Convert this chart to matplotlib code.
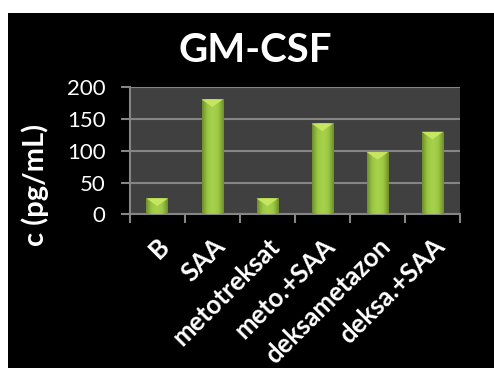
import matplotlib
matplotlib.use("Agg")
import matplotlib.pyplot as plt
import matplotlib.transforms as mtransforms
import numpy as np
from matplotlib.patches import Rectangle, Polygon
from matplotlib.colors import LinearSegmentedColormap

categories = ["B", "SAA", "metotreksat", "meto.+SAA", "deksametazon", "deksa.+SAA"]
values = [25, 181, 25, 143, 98, 130]
yticks = [0, 50, 100, 150, 200]

plt.rcParams['font.family'] = ['Lato', 'DejaVu Sans']

fig = plt.figure(figsize=(4.94, 3.78), dpi=100)
fig.patch.set_facecolor('white')
fig.add_artist(Rectangle((8/494, 10/378), 1 - 8/494, 1 - 23/378,
                         transform=fig.transFigure, facecolor='black',
                         edgecolor='none', zorder=-10))

ax = fig.add_axes([129.7/494, 1 - 214.3/378, 330.3/494, 127/378])
ax.set_facecolor('#404040')
x = np.arange(len(categories))
width = 0.39
bars = ax.bar(x, values, width=width, color='#93bd3c', zorder=3)

cmap = LinearSegmentedColormap.from_list('g', ['#6f8f2a', '#9cc843', '#a8d24c', '#9cc843', '#6f8f2a'])
grad = np.linspace(0, 1, 64).reshape(1, -1)
for b in bars:
    x0, w, h = b.get_x(), b.get_width(), b.get_height()
    im = ax.imshow(grad, extent=[x0, x0 + w, 0, h], aspect='auto', cmap=cmap,
                   zorder=4, origin='lower')
    im.set_clip_path(b)
    d = min(12, h * 0.5)
    tri = Polygon([[x0, h], [x0 + w, h], [x0 + w / 2, h - d]], closed=True,
                  facecolor='#c6e561', edgecolor='none', zorder=5)
    ax.add_patch(tri)

ax.set_xlim(-0.5, len(categories) - 0.5)
ax.set_ylim(0, 200)
ax.set_yticks(yticks)
ax.set_yticklabels([str(t) for t in yticks], color='white', fontsize=16)
ax.set_xticks(np.arange(len(categories) + 1) - 0.5, minor=False)
ax.set_xticklabels([])
ax.set_xticks(x, minor=True)
ax.set_xticklabels(categories, minor=True, rotation=45, ha='right', rotation_mode='anchor',
                   color='white', fontsize=18.5, fontweight='bold')
offset = mtransforms.ScaledTranslation(4/100, 0, fig.dpi_scale_trans)
for lbl in ax.get_xticklabels(minor=True):
    lbl.set_transform(lbl.get_transform() + offset)
ax.tick_params(axis='x', which='minor', length=0, pad=14)
ax.tick_params(axis='x', which='major', length=6.5, width=1.5, color='#858585', direction='out')
ax.tick_params(axis='y', length=6.5, width=1.5, color='#858585', direction='out', pad=11)
ax.grid(axis='y', color='#858585', linewidth=1.5, zorder=1)
ax.set_axisbelow(True)
for s in ['top', 'right']:
    ax.spines[s].set_visible(False)
for s in ['left', 'bottom']:
    ax.spines[s].set_color('#858585')
    ax.spines[s].set_linewidth(1.5)

fig.text(255/494, 1 - 50/378, "GM-CSF", color='white', fontsize=29, fontweight='bold',
         ha='center', va='center')
fig.text(35/494, 1 - 185/378, "c (pg/mL)", color='white', fontsize=21, fontweight='bold',
         ha='center', va='center', rotation=90)

fig.savefig("out.png", dpi=100, facecolor='white')
